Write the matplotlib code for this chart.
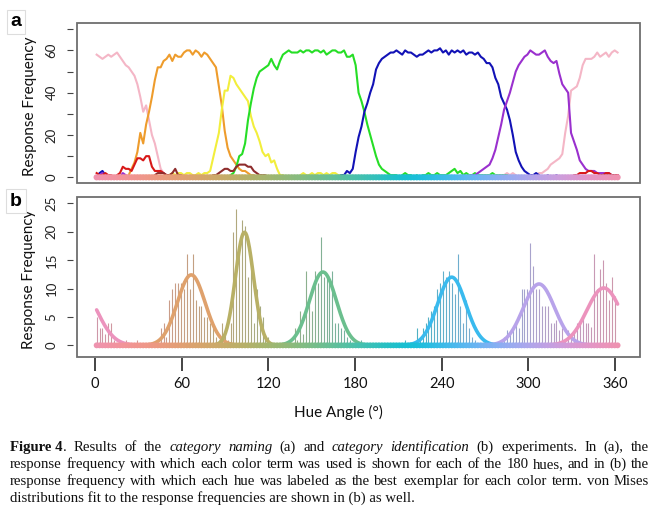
import matplotlib
matplotlib.use("Agg")
import matplotlib.pyplot as plt
from matplotlib.patches import Rectangle
from matplotlib.ticker import FixedLocator, FixedFormatter
import numpy as np

# ---------------- data ----------------
HUES = list(range(0, 360, 2))  # 180 stimulus hues

# panel a: naming frequencies (rows = 40 deg each)
PINK = [58,57,56,57,58,57,58,59,57,55,53,52,50,48,44,38,31,34,27,20,
        16,10,4,2,1,1,0,0,0,0,0,0,0,0,0,0,0,0,0,0,
        0,0,0,0,0,0,0,0,0,0,0,0,0,0,0,0,0,0,0,0,
        0,0,0,0,0,0,0,0,0,0,0,0,0,0,0,0,0,0,0,0,
        0,0,0,0,0,0,0,0,0,0,0,0,0,0,0,0,0,0,0,0,
        0,0,0,0,0,0,0,0,0,0,0,0,0,0,0,0,0,0,0,0,
        0,0,0,0,0,0,0,0,0,0,0,0,0,0,0,0,0,0,0,0,
        1,2,1,2,1,0,0,0,1,1,1,1,2,2,3,4,6,7,8,9,
        11,21,29,41,42,43,47,53,56,56,56,57,59,57,58,59,57,59,60,59]
ORANGE = [0,0,0,0,0,0,0,0,0,0,0,1,4,7,12,21,16,25,31,38,
          46,52,52,55,56,58,55,58,57,57,59,60,60,58,60,59,57,59,58,56,
          54,52,43,34,22,14,10,8,6,4,3,3,2,1,1,0,0,0,0,0,
          0,0,0,0,0,0,0,0,0,0,0,0,0,0,0,0,0,0,0,0,
          0,0,0,0,0,0,0,0,0,0,0,0,0,0,0,0,0,0,0,0,
          0,0,0,0,0,0,0,0,0,0,0,0,0,0,0,0,0,0,0,0,
          0,0,0,0,0,0,0,0,0,0,0,0,0,0,0,0,0,0,0,0,
          0,0,0,0,0,0,0,0,0,0,0,0,0,0,0,0,0,0,0,0,
          0,0,0,0,0,0,0,0,0,0,0,0,0,0,0,0,0,0,0,0]
YELLOW = [0,0,0,0,0,0,0,0,0,0,0,0,0,0,0,0,0,0,0,0,
          0,0,0,0,1,1,2,1,2,2,1,2,2,1,1,2,1,2,2,3,
          9,15,21,32,41,41,48,47,44,42,40,38,36,29,24,21,17,12,10,11,
          7,8,4,1,1,0,0,0,0,0,1,2,1,1,2,1,2,2,1,2,
          1,2,2,1,1,1,0,0,0,0,0,0,0,0,0,0,0,0,0,0,
          0,0,0,0,0,0,0,0,0,0,0,0,0,0,0,0,0,0,0,0,
          0,0,0,0,0,0,0,0,0,0,0,0,0,0,0,0,0,0,0,0,
          0,0,0,0,0,0,0,0,0,0,0,0,0,0,0,0,0,0,0,0,
          0,0,0,0,0,0,0,0,0,0,0,0,0,0,0,0,0,0,0,0]
GREEN = [0,0,0,0,0,0,0,0,0,0,0,0,0,0,0,0,0,0,0,0,
         0,0,0,0,0,0,0,0,0,0,0,0,0,0,0,0,0,0,0,0,
         0,0,0,0,0,0,1,2,5,10,11,16,27,35,42,47,50,51,52,53,
         56,53,51,55,58,59,60,59,59,59,60,59,60,60,59,60,60,59,60,58,
         59,60,60,59,59,60,57,57,58,53,40,36,31,25,20,15,10,6,4,3,
         2,1,1,1,0,1,2,1,1,0,1,0,1,1,2,1,1,2,1,1,
         1,2,3,4,2,3,1,2,1,1,2,1,1,1,1,1,2,1,1,1,
         1,1,0,0,0,0,0,0,0,0,0,0,0,0,0,0,0,0,0,0,
         0,0,0,0,0,0,0,0,0,0,0,0,0,0,0,0,0,0,0,0]
BLUE = [0,2,3,1,1,0,0,0,0,0,0,0,0,0,0,0,0,0,0,0,
        0,0,0,0,0,0,0,0,0,0,0,0,0,0,0,0,0,0,0,0,
        0,0,0,0,0,0,0,0,0,0,0,0,0,0,0,0,0,0,0,0,
        0,0,0,0,0,0,0,0,0,0,0,0,0,0,0,0,0,0,0,0,
        0,0,0,0,1,1,3,2,4,12,19,24,31,35,40,44,51,54,56,57,
        58,59,59,60,59,58,60,59,59,58,57,58,58,59,60,59,60,60,61,59,
        60,58,60,59,60,59,60,58,59,59,58,59,57,56,54,54,52,47,44,38,
        35,32,27,20,12,8,5,3,2,1,1,2,1,0,0,1,0,0,1,0,
        0,0,0,0,0,0,0,0,0,0,0,0,0,0,0,0,0,0,0,0]
PURPLE = [0,1,2,1,0,0,0,0,0,2,1,0,0,0,0,0,0,0,0,0,
          0,0,0,0,0,0,0,0,0,0,0,0,0,0,0,0,0,0,0,0,
          0,0,0,0,0,0,0,0,0,0,0,0,0,0,0,0,0,0,0,0,
          0,0,0,0,0,0,0,0,0,0,0,0,0,0,0,0,0,0,0,0,
          0,0,0,0,0,0,0,0,0,0,0,0,0,0,0,0,0,0,0,0,
          0,0,0,0,0,0,0,0,0,0,0,0,0,0,0,0,0,0,0,0,
          0,0,0,0,0,0,0,0,0,1,1,2,3,4,5,6,9,13,19,25,
          32,36,40,45,50,53,55,57,58,60,59,58,58,59,60,57,55,54,55,49,
          44,42,40,21,17,13,8,6,4,3,3,3,2,2,2,2,2,1,1,1]
RED = [2,1,1,2,1,1,0,1,2,5,4,4,3,6,9,9,8,10,10,5,
       3,3,3,2,1,1,0,0,0,0,0,0,0,0,0,0,0,0,0,0,
       0,0,0,0,0,0,0,0,0,0,0,0,0,0,0,0,0,0,0,0,
       0,0,0,0,0,0,0,0,0,0,0,0,0,0,0,0,0,0,0,0,
       0,0,0,0,0,0,0,0,0,0,0,0,0,0,0,0,0,0,0,0,
       0,0,0,0,0,0,0,0,0,0,0,0,0,0,0,0,0,0,0,0,
       0,0,0,0,0,0,0,0,0,0,0,0,0,0,0,0,0,0,0,0,
       0,0,0,0,0,0,0,0,0,0,0,0,0,0,0,0,0,0,0,0,
       0,0,0,0,1,1,2,2,2,3,3,2,2,1,1,2,2,1,1,1]
MAROON = [0,0,0,0,0,0,0,0,0,0,0,0,0,0,0,0,0,0,0,0,
          1,2,2,2,1,1,2,4,1,1,0,0,0,0,0,0,0,0,0,0,
          1,1,2,3,4,4,3,3,5,6,6,6,5,5,3,2,1,1,1,0,
          0,0,0,0,0,0,0,0,0,0,0,0,0,0,0,0,0,0,0,0,
          0,0,0,0,0,0,0,0,0,0,0,0,0,0,0,0,0,0,0,0,
          0,0,0,0,0,0,0,0,0,0,0,0,0,0,0,0,0,0,0,0,
          0,0,0,0,0,0,0,0,0,0,0,0,0,0,0,0,0,0,0,0,
          0,0,0,0,0,0,0,0,0,0,0,0,0,0,0,0,0,0,0,0,
          0,0,0,0,0,0,0,0,0,0,0,0,0,1,1,1,1,1,1,0]

SERIES_A = [PINK, ORANGE, YELLOW, GREEN, BLUE, PURPLE, RED, MAROON]
SERIES_A_COLORS = ["#F4B6C6", "#EE9C2C", "#F2EE3C", "#26DE26",
                   "#1212B6", "#9A30CE", "#D81818", "#8E2C2C"]

# panel b: best-exemplar frequencies
BEST = [5,3,3,2,4,4,1,0,0,0,1,0,0,0,1,0,0,0,0,0,
        0,0,3,4,1.5,8,10,11,11,11,10,16,10,16,8,7,7,5,5,4,
        3,1.5,1,4,2,1,4,20,24,18,22,21,12,15,4,10,7,5,1.5,1.5,
        0,0,0,0,0,0,0,0,3,1,6,2,13,8,6,13,11,19,12,12.5,
        11,13,4,4,3,2.7,1.5,1,0,0,0,1,0,0,0,0,0,0,0,0,
        0,0,0,0,0,0,1,0,0,0,3,1,3,4,5,6,7,10,11,13,
        12,13,11,9,16,7,4,8,3,1.5,1,0,0,0,0,0,0,0,0,0,
        1.5,2.7,2,3,4.5,3,10,10,10,18,14,10,10,7,7,7,4,4,4.5,2.7,
        3,1,2.7,2,2.7,4,4,5,4,4,3.3,16,10,13.5,15,11,8,12,8.6,0]

# von Mises fits (centre hue, peak height, concentration)
FIT_MU = [65, 101.6, 155.5, 244, 304, 348.5]
FIT_PEAK = [12.4, 19.9, 12.9, 12.0, 10.8, 10.1]
FIT_KAPPA = [36, 85, 38, 35, 28, 24]

X_TICKS = [0, 60, 120, 180, 240, 300, 360]

CAPTION = [
    [[("Figure 4", "bold", "normal"), (".", "normal", "normal")],
     [("Results", "normal", "normal")], [("of", "normal", "normal")], [("the", "normal", "normal")],
     [("category", "normal", "italic")], [("naming", "normal", "italic")],
     [("(a)", "normal", "normal")], [("and", "normal", "normal")],
     [("category", "normal", "italic")], [("identification", "normal", "italic")],
     [("(b)", "normal", "normal")], [("experiments.", "normal", "normal")],
     [("In", "normal", "normal")], [("(a),", "normal", "normal")], [("the", "normal", "normal")]],
    "response frequency with which each color term was used is shown for each of the 180 hues, and in (b) the",
    "response frequency with which each hue was labeled as the best exemplar for each color term. von Mises",
]
CAPTION_LAST = "distributions fit to the response frequencies are shown in (b) as well."


# ---------------- helpers ----------------
def lch_rgb(L, C, h):
    a = C * np.cos(np.radians(h))
    b = C * np.sin(np.radians(h))
    fy = (L + 16) / 116.0
    fx = fy + a / 500.0
    fz = fy - b / 200.0

    def finv(t):
        return t ** 3 if t ** 3 > 0.008856 else (t - 16 / 116.0) / 7.787
    X, Y, Z = 0.95047 * finv(fx), finv(fy), 1.08883 * finv(fz)
    r = 3.2406 * X - 1.5372 * Y - 0.4986 * Z
    g = -0.9689 * X + 1.8758 * Y + 0.0415 * Z
    bb = 0.0557 * X - 0.2040 * Y + 1.0570 * Z
    out = []
    for c in (r, g, bb):
        c = max(0.0, c)
        c = 12.92 * c if c <= 0.0031308 else 1.055 * c ** (1 / 2.4) - 0.055
        out.append(min(1, max(0, c)))
    return tuple(out)


W, H = 660, 513
SANS = "Lato"
fig = plt.figure(figsize=(W / 100, H / 100), dpi=100)


def fr(x0, y0, x1, y1):
    return [x0 / W, 1 - y1 / H, (x1 - x0) / W, (y1 - y0) / H]


band_colors = [lch_rgb(71, 38, h) for h in HUES]


def style_panel(ax):
    for s in ax.spines.values():
        s.set_visible(False)
    ax.spines["left"].set_position(("outward", 3))
    ax.add_patch(Rectangle((0, 0), 1, 1, transform=ax.transAxes, fill=False,
                           ec="#6e6e6e", lw=1.3, clip_on=False, zorder=10))
    ax.set_xticks([])
    ax.tick_params(axis="y", direction="out", length=4, width=0.8, color="#444444",
                   labelsize=9.5, pad=7, labelrotation=90, labelcolor="#222222")
    for t in ax.get_yticklabels():
        t.set_va("center")
        t.set_family(SANS)
    ax.set_xlim(-13.5, 373.4)


# ---- panel a ----
ax_a = fig.add_axes(fr(77, 22.7, 640, 182.7))
for ser, col in zip(SERIES_A, SERIES_A_COLORS):
    ax_a.plot(HUES, ser, color=col, lw=1.5, zorder=3)
ax_a.scatter(HUES, [0] * len(HUES), s=20, c=band_colors, linewidths=0, zorder=5)
ax_a.set_ylim(-2.55, 73.1)
ax_a.yaxis.set_major_locator(FixedLocator([0, 10, 20, 30, 40, 50, 60, 70]))
ax_a.yaxis.set_major_formatter(FixedFormatter(["0", "", "20", "", "40", "", "60", ""]))
style_panel(ax_a)

# ---- panel b ----
ax_b = fig.add_axes(fr(77, 197.3, 640, 356.7))
bar_colors = [tuple(0.6 * c + 0.4 * 0.62 for c in bc) for bc in band_colors]
ax_b.vlines(HUES, 0, BEST, colors=bar_colors, lw=0.8, zorder=2)
hh = np.arange(0, 358.01, 0.5)
for mu, pk, kp in zip(FIT_MU, FIT_PEAK, FIT_KAPPA):
    yy = pk * np.exp(kp * (np.cos(np.radians(hh - mu)) - 1))
    ax_b.plot(hh, yy, color=lch_rgb(71, 40, mu), lw=2.6, zorder=3,
              solid_capstyle="round")
ax_b.scatter(HUES, [0] * len(HUES), s=18, c=band_colors, linewidths=0, zorder=5)
ax_b.set_ylim(-2.0, 26.06)
ax_b.set_yticks([0, 5, 10, 15, 20, 25])
style_panel(ax_b)

# ---- shared hue axis ----
ax_x = fig.add_axes(fr(77, 357, 640, 358))
ax_x.set_xlim(-12.46, 377.3)
ax_x.patch.set_visible(False)
for s in ax_x.spines.values():
    s.set_visible(False)
ax_x.set_yticks([])
ax_x.set_xticks(X_TICKS)
ax_x.set_xticklabels([str(v) for v in X_TICKS], family=SANS)
ax_x.tick_params(axis="x", direction="out", length=9.5, width=1.1, color="#111111",
                 labelsize=10.5, pad=4, labelcolor="#111111")
fig.text(338 / W, 1 - 412 / H, "Hue Angle (\u00b0)", family=SANS, fontsize=11,
         ha="center", va="center", color="#111111")

# ---- y labels & panel letters ----
fig.text(30 / W, 1 - 106 / H, "Response Frequency", family=SANS, fontsize=11,
         rotation=90, ha="center", va="center", color="#111111")
fig.text(29 / W, 1 - 279 / H, "Response Frequency", family=SANS, fontsize=11,
         rotation=90, ha="center", va="center", color="#111111")
for lab, y in (("a", 22), ("b", 201)):
    fig.text(16 / W, 1 - y / H, lab, family="Liberation Sans", weight="bold",
             fontsize=14, ha="center", va="center",
             bbox=dict(boxstyle="square,pad=0.2", fc="white", ec="#dddddd", lw=0.8))

# ---- caption (justified) ----
CAP_FS = 10.6
CAP_FONT = "Liberation Serif"
renderer = fig.canvas.get_renderer()
X0, X1 = 10, 649
baselines = [451, 468, 485, 502]


def tokens_of(line):
    if isinstance(line, str):
        return [[(w, "normal", "normal")] for w in line.split()]
    return line


for line, yb in zip(CAPTION, baselines[:3]):
    toks = tokens_of(line)
    objs, widths = [], []
    for word in toks:
        segs, wsum = [], 0
        for txt, wt, st in word:
            t = fig.text(0, 0, txt, family=CAP_FONT, fontsize=CAP_FS, weight=wt,
                         style=st, ha="left", va="baseline", color="#111111")
            w = t.get_window_extent(renderer).width
            segs.append((t, w))
            wsum += w
        objs.append(segs)
        widths.append(wsum)
    gap = (X1 - X0 - sum(widths)) / (len(widths) - 1)
    x = X0
    for segs, w in zip(objs, widths):
        xx = x
        for t, sw in segs:
            t.set_position((xx / W, 1 - yb / H))
            xx += sw
        x += w + gap

fig.text(X0 / W, 1 - baselines[3] / H, CAPTION_LAST, family=CAP_FONT, fontsize=CAP_FS,
         ha="left", va="baseline", color="#111111")

fig.savefig("out.png", dpi=100)
